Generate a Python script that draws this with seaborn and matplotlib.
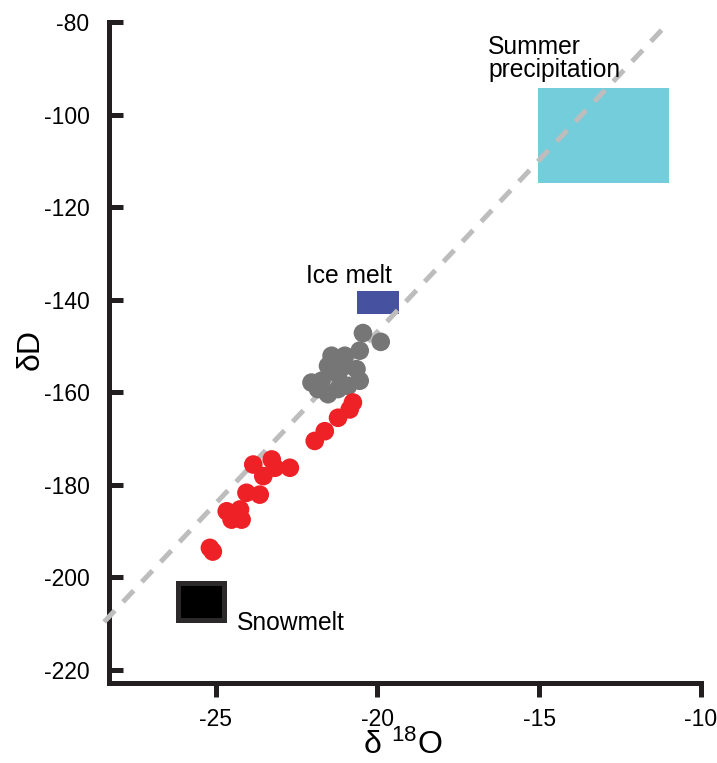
import numpy as np
import pandas as pd
import matplotlib
matplotlib.use("Agg")
import matplotlib.pyplot as plt
from matplotlib.patches import Rectangle
import seaborn as sns

# Stream water samples (delta 18O, delta D), per mil
early_d18o = [-20.45, -19.90, -20.55, -21.42, -21.01, -21.53, -20.65, -21.22,
              -20.55, -22.04, -21.73, -21.53, -21.22, -20.91, -21.84, -21.01, -21.32]
early_dD = [-147.2, -149.1, -151.0, -152.1, -152.1, -154.3, -155.0, -156.1,
            -157.5, -157.9, -157.5, -160.4, -159.3, -158.6, -159.3, -154.3, -155.0]

late_d18o = [-20.76, -20.86, -21.22, -21.63, -21.94, -23.84, -23.27, -23.17, -23.53,
             -22.71, -24.05, -23.64, -24.66, -24.25, -24.51, -24.20, -25.18, -25.09]
late_dD = [-162.2, -163.7, -165.5, -168.4, -170.5, -175.6, -174.5, -176.3, -178.1,
           -176.3, -181.7, -182.1, -185.7, -185.3, -187.5, -187.5, -193.6, -194.4]

# Local meteoric water line end points
lmwl_d18o = [-28.45, -11.07]
lmwl_dD = [-209.6, -80.65]

# End-member source ranges
sources = ["Summer precipitation", "Ice melt", "Snowmelt"]
src_x_lo = [-15.05, -20.62, -26.18]
src_x_hi = [-10.98, -19.35, -24.74]
src_y_lo = [-114.85, -143.15, -209.15]
src_y_hi = [-94.2, -138.05, -201.1]
src_face = ["#74cddb", "#4652a0", "#000000"]
src_edge = ["none", "none", "#2b2929"]

# Source labels
label_text = ["Summer\nprecipitation", "Ice melt", "Snowmelt"]
label_x = [-16.58, -22.21, -24.33]
label_y = [-91.9, -136.45, -211.3]

x_ticks = [-25, -20, -15, -10]
y_ticks = [-80, -100, -120, -140, -160, -180, -200, -220]

sns.set_style("ticks")
plt.rcParams["font.family"] = ["Liberation Sans", "DejaVu Sans"]
plt.rcParams["text.color"] = "black"
plt.rcParams["axes.labelcolor"] = "black"
plt.rcParams["xtick.color"] = "black"
plt.rcParams["ytick.color"] = "black"

df = pd.DataFrame({
    "d18O": early_d18o + late_d18o,
    "dD": early_dD + late_dD,
    "group": ["early"] * len(early_d18o) + ["late"] * len(late_d18o),
})

fig = plt.figure(figsize=(7.17, 7.63), dpi=100)
ax = fig.add_axes([0.152, 0.1048, 0.8257, 0.8664])

ax.plot(lmwl_d18o, lmwl_dD, color="#bdbdbd", lw=3.6, dashes=(3.1, 2.4),
        zorder=3, clip_on=False)

for i in range(len(sources)):
    ax.add_patch(Rectangle((src_x_lo[i], src_y_lo[i]),
                           src_x_hi[i] - src_x_lo[i], src_y_hi[i] - src_y_lo[i],
                           facecolor=src_face[i], edgecolor=src_edge[i],
                           lw=3.6 if src_edge[i] != "none" else 0, zorder=2))

sns.scatterplot(data=df, x="d18O", y="dD", hue="group",
                palette={"early": "#767676", "late": "#ee2127"},
                s=180, edgecolor="none", legend=False, ax=ax, zorder=4)

for t, x, y in zip(label_text, label_x, label_y):
    ax.text(x, y, t, fontsize=17.7, ha="left", va="baseline", linespacing=0.93,
            color="black")

ax.set_xlim(-28.30, -10)
ax.set_ylim(-222.8, -80)
ax.set_xticks(x_ticks)
ax.set_yticks(y_ticks)
ax.set_xticklabels([str(v) for v in x_ticks])
ax.set_yticklabels([str(v) for v in y_ticks])

for side in ["top", "right"]:
    ax.spines[side].set_visible(False)
for side in ["left", "bottom"]:
    ax.spines[side].set_linewidth(3.6)
    ax.spines[side].set_color("#231f20")

ax.tick_params(axis="x", direction="out", length=10, width=3.6, color="#231f20",
               labelcolor="black", labelsize=16.5, pad=8)
ax.tick_params(axis="y", direction="in", length=10, width=3.6, color="#231f20",
               labelcolor="black", labelsize=16.5, pad=14)

ax.set_xlabel("δ$\\mathregular{\\ ^{18}}$O", fontsize=23, va="center", ha="center")
ax.set_ylabel("δD", fontsize=23, va="center", ha="center")
ax.xaxis.set_label_coords(0.497, -0.094)
ax.yaxis.set_label_coords(-0.133, 0.504)

fig.savefig("out.png", dpi=100, facecolor="white")
